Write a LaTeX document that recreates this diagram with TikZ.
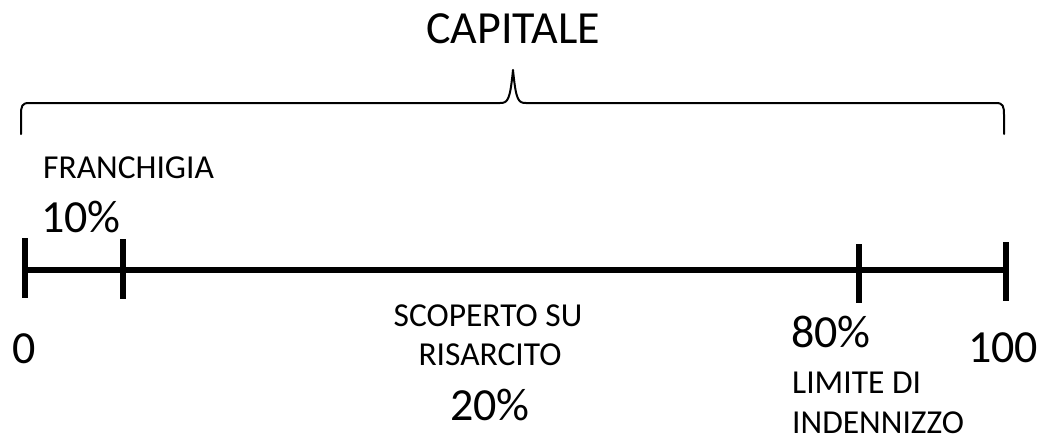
\documentclass[tikz,border=0pt]{standalone}
\usepackage{fontspec}
\setmainfont{Carlito}
\begin{document}
\begin{tikzpicture}[x=1pt,y=-1pt,
  big/.style={inner sep=0pt, font=\fontsize{46}{50}\selectfont},
  small/.style={inner sep=0pt, font=\fontsize{33.5}{38}\selectfont},
  axisline/.style={line width=6pt},
  tickline/.style={line width=6pt},
  bracestyle/.style={line width=2pt, line join=round, line cap=round}]
\useasboundingbox (0,0) rectangle (1044,436);
% brace
\coordinate (bl) at (21,134);
\coordinate (br) at (1004,134);
\coordinate (btip) at (513,70);
\draw[bracestyle] (bl) -- (21,115) .. controls (21,106) and (22,103) .. (29,103)
  -- (500,103) .. controls (508,103) and (510,100) .. (btip)
  .. controls (516,100) and (518,103) .. (526,103)
  -- (996,103) .. controls (1003,103) and (1004,106) .. (1004,115) -- (br);
% axis
\coordinate (a0) at (25,270);
\coordinate (a10) at (123,270);
\coordinate (a80) at (859,270);
\coordinate (a100) at (1006,270);
\draw[axisline] (a0) -- (a100);
\draw[tickline] (25,238) -- (25,298);
\draw[tickline] (123,239) -- (123,299);
\draw[tickline] (859,244) -- (859,303);
\draw[tickline] (1006,242) -- (1006,301);
% texts
\node[big, anchor=base] (cap) at (513,44) {CAPITALE};
\node[small, anchor=base west] (fr) at (43,178) {FRANCHIGIA};
\node[big, anchor=base west] (p10) at (41,232) {10\%};
\node[big, anchor=base west] (n0) at (12,363) {0};
\node[small, anchor=base] (sc) at (488,326) {SCOPERTO SU};
\node[small, anchor=base] (ri) at (490,365) {RISARCITO};
\node[big, anchor=base] (p20) at (490,420) {20\%};
\node[big, anchor=base west] (p80) at (791,347) {80\%};
\node[big, anchor=base west] (n100) at (968,362) {100};
\node[small, anchor=base west] (li) at (792,393) {LIMITE DI};
\node[small, anchor=base west] (in) at (792,433) {INDENNIZZO};
\end{tikzpicture}
\end{document}
